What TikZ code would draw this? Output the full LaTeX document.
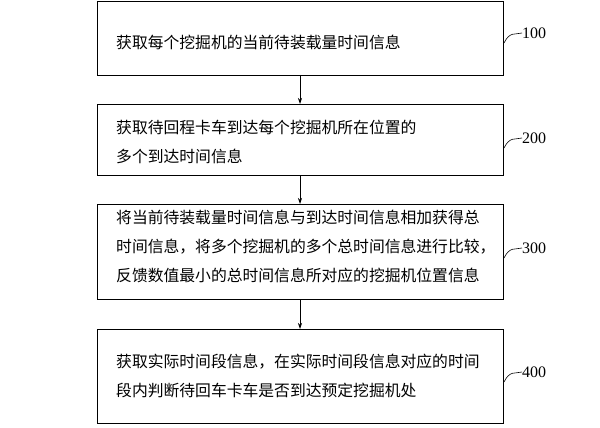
\documentclass[tikz,border=0pt]{standalone}
\usepackage{fontspec}
\setmainfont{Liberation Serif}
\newfontfamily\cjk{Noto Sans CJK SC}
\usetikzlibrary{arrows.meta}
\begin{document}
\begin{tikzpicture}[x=1pt,y=-1pt,
  box/.style={draw,line width=0.8pt},
  txt/.style={anchor=west,align=left,font=\cjk\fontsize{15.8}{29}\selectfont,inner sep=0},
  arr/.style={-{Stealth[length=6pt,width=4pt]},line width=0.7pt},
  lab/.style={anchor=west,font=\fontsize{16}{18}\selectfont,inner sep=0}]
\useasboundingbox (0,0) rectangle (600,428);
\draw[box] (97,1) rectangle (503,75);
\draw[box] (97,104) rectangle (503,175);
\draw[box] (97,204) rectangle (503,299);
\draw[box] (97,329) rectangle (503,423);
\coordinate (b1) at (300,75); \coordinate (t2) at (300,104);
\coordinate (b2) at (300,175); \coordinate (t3) at (300,204);
\coordinate (b3) at (300,299); \coordinate (t4) at (300,329);
\draw[arr] (b1) -- (t2);
\draw[arr] (b2) -- (t3);
\draw[arr] (b3) -- (t4);
\node[txt] (n1) at (116,42) {获取每个挖掘机的当前待装载量时间信息};
\node[txt] (n2) at (116,142) {获取待回程卡车到达每个挖掘机所在位置的\\多个到达时间信息};
\node[txt] (n3) at (116,246) {将当前待装载量时间信息与到达时间信息相加获得总\\时间信息，将多个挖掘机的多个总时间信息进行比较，\\反馈数值最小的总时间信息所对应的挖掘机位置信息};
\node[txt] (n4) at (116,376) {获取实际时间段信息，在实际时间段信息对应的时间\\段内判断待回车卡车是否到达预定挖掘机处};
\foreach \y/\t in {33/100,138/200,248/300,372/400}{
  \node[lab] (l\t) at (522,\y) {\t};
  \draw[line width=0.6pt] (504,\y+10) .. controls (510,\y-2) and (515,\y+2) .. (l\t.west);
}
\end{tikzpicture}
\end{document}
